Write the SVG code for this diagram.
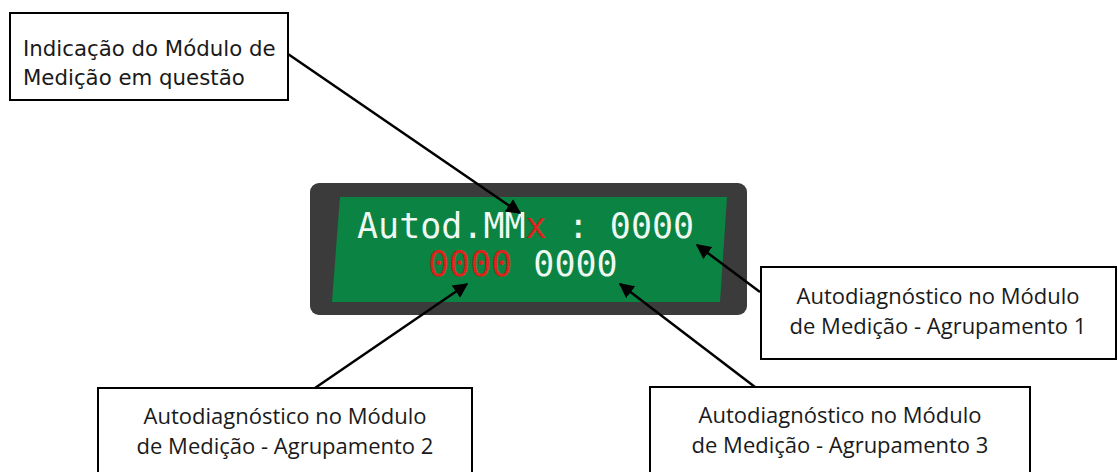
<svg xmlns="http://www.w3.org/2000/svg" width="1118" height="472" viewBox="0 0 1118 472">
<defs>
<style>
.box{fill:#fff;stroke:#000;stroke-width:2}
.lbl{font-family:"DejaVu Sans",sans-serif;font-size:21.3px;fill:#1a1a1a}
.cal{font-family:"Open Sans","Liberation Sans",sans-serif;font-size:22px;fill:#1a1a1a;text-anchor:middle}
.lcd{font-family:"DejaVu Sans Mono",monospace;font-size:35px;fill:url(#dotw)}
.red{fill:url(#dotr)}
.conn{stroke:#000;stroke-width:2.5;fill:none;marker-end:url(#ah)}
</style>
<pattern id="dotw" width="2.6" height="2.6" patternUnits="userSpaceOnUse">
<rect width="2.6" height="2.6" fill="#d9f0e0"/>
<circle cx="1.3" cy="1.3" r="1.1" fill="#fff"/>
</pattern>
<pattern id="dotr" width="2.6" height="2.6" patternUnits="userSpaceOnUse">
<rect width="2.6" height="2.6" fill="#c41a14"/>
<circle cx="1.3" cy="1.3" r="1.1" fill="#ee2a20"/>
</pattern>
<marker id="ah" viewBox="0 0 10 10" refX="9" refY="5" markerWidth="6" markerHeight="6" orient="auto" markerUnits="strokeWidth">
<path d="M0,0 L10,5 L0,10 z" fill="#000"/>
</marker>
</defs>
<rect width="1118" height="472" fill="#fff"/>
<g id="display">
<rect x="310" y="183" width="437" height="132" rx="9" fill="#3b3b3b"/>
<polygon points="340,197 727,197 720,302 332,302" fill="#0b8443"/>
<text class="lcd" x="357" y="238">Autod.MM<tspan class="red">x</tspan> : 0000</text>
<text class="lcd" x="428" y="276"><tspan class="red">0000</tspan> 0000</text>
</g>
<g id="node-top">
<rect class="box" x="10" y="13" width="278" height="87"/>
<text class="lbl" x="23" y="56">Indicação do Módulo de</text>
<text class="lbl" x="23" y="85">Medição em questão</text>
</g>
<g id="node-right">
<rect class="box" x="761" y="267" width="355" height="92"/>
<text class="cal" x="938" y="304">Autodiagnóstico no Módulo</text>
<text class="cal" x="938" y="334">de Medição - Agrupamento 1</text>
</g>
<g id="node-bl">
<rect class="box" x="98" y="388" width="374" height="92"/>
<text class="cal" x="285" y="424">Autodiagnóstico no Módulo</text>
<text class="cal" x="285" y="454">de Medição - Agrupamento 2</text>
</g>
<g id="node-br">
<rect class="box" x="650" y="387" width="380" height="92"/>
<text class="cal" x="840" y="423">Autodiagnóstico no Módulo</text>
<text class="cal" x="840" y="453">de Medição - Agrupamento 3</text>
</g>
<g id="connectors">
<line class="conn" x1="288" y1="54" x2="520" y2="213"/>
<line class="conn" x1="760" y1="292" x2="697" y2="245"/>
<line class="conn" x1="315" y1="388" x2="467" y2="284"/>
<line class="conn" x1="755" y1="387" x2="620" y2="284"/>
</g>
</svg>
